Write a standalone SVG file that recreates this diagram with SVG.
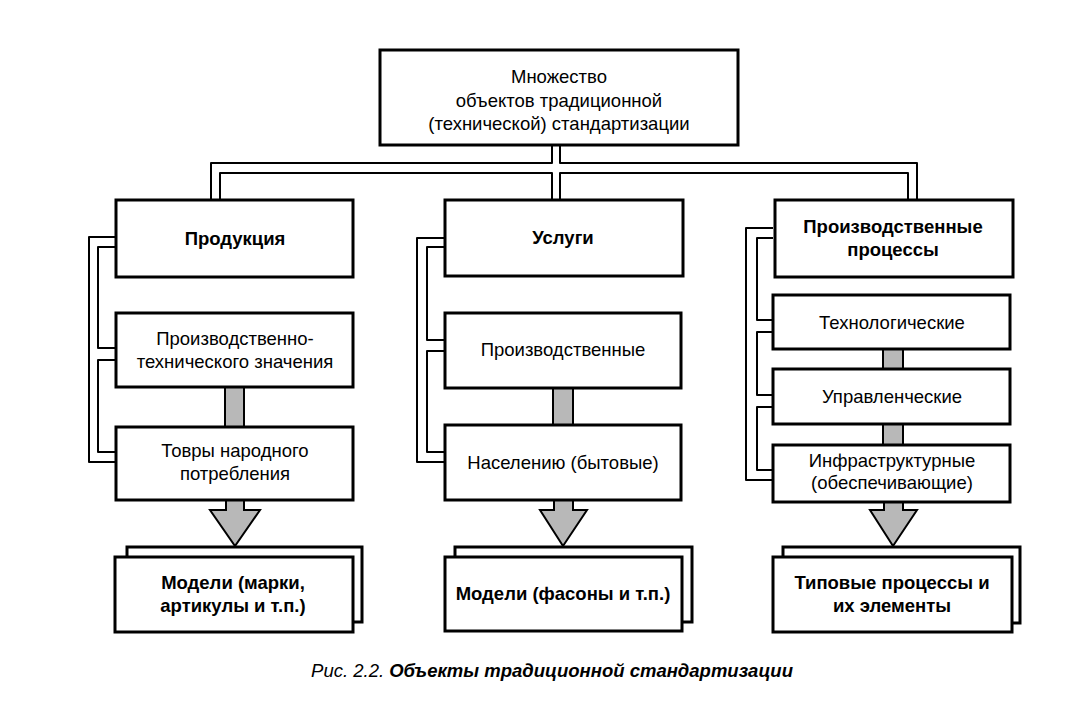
<svg xmlns="http://www.w3.org/2000/svg" width="1088" height="725" viewBox="0 0 1088 725">
<style>
.box{fill:#fff;stroke:#000;stroke-width:3}
.back{fill:#fff;stroke:#000;stroke-width:3;stroke-linejoin:miter}
.pipe{fill:none;stroke:#000;stroke-width:2;stroke-linejoin:round}
.arr{fill:#b8b8b8;stroke:#000;stroke-width:2}
text{font-family:"Liberation Sans",Arial,sans-serif;font-size:18.5px;fill:#000;text-anchor:middle}
.b{font-weight:bold}
.cap{font-style:italic;font-size:18.5px}
</style>
<rect width="1088" height="725" fill="#fff"/>
<g id="connectors">
<path class="pipe" d="M552,145 V163 H211 V200"/>
<path class="pipe" d="M560,145 V163 H917 V200"/>
<path class="pipe" d="M552,200 V173 H220 V200"/>
<path class="pipe" d="M560,200 V173 H908 V200"/>
<path class="pipe" d="M116,237 H89 V462 H116"/>
<path class="pipe" d="M116,247 H98 V348 H116"/>
<path class="pipe" d="M116,360 H98 V452 H116"/>
<path class="pipe" d="M445,238 H417 V462 H445"/>
<path class="pipe" d="M445,247 H427 V340 H445"/>
<path class="pipe" d="M445,351 H427 V452 H445"/>
<path class="pipe" d="M773,228 H746 V480 H773"/>
<path class="pipe" d="M773,238 H757 V320 H773"/>
<path class="pipe" d="M773,332 H757 V395 H773"/>
<path class="pipe" d="M773,407 H757 V470 H773"/>
<rect class="arr" x="225" y="386" width="19" height="42"/>
<rect class="arr" x="553" y="387" width="20" height="40"/>
<rect class="arr" x="883" y="349" width="20" height="21"/>
<rect class="arr" x="883" y="424" width="20" height="22"/>
<path class="arr" d="M226,500 V510 H210 L235,546 L260,510 H244 V500 Z"/>
<path class="arr" d="M554,500 V510 H540 L563,546 L587,510 H573 V500 Z"/>
<path class="arr" d="M884,502 V510 H870 L893,546 L917,510 H903 V502 Z"/>
</g>
<g id="top"><rect class="box" x="380" y="50" width="358" height="95"/>
<text x="559" y="83">Множество</text><text x="559" y="107">объектов традиционной</text><text x="559" y="130">(технической) стандартизации</text></g>
<g id="produkciya"><rect class="box" x="116" y="200" width="237" height="77"/><text class="b" x="235" y="245">Продукция</text></g>
<g id="uslugi"><rect class="box" x="445" y="200" width="238" height="76"/><text class="b" x="563" y="244">Услуги</text></g>
<g id="processy"><rect class="box" x="775" y="200" width="238" height="77"/><text class="b" x="893" y="233">Производственные</text><text class="b" x="893" y="256">процессы</text></g>
<g id="pt"><rect class="box" x="116" y="313" width="237" height="74"/><text x="235" y="345">Производственно-</text><text x="235" y="368">технического значения</text></g>
<g id="tnp"><rect class="box" x="116" y="427" width="237" height="73"/><text x="235" y="457">Товры народного</text><text x="235" y="480">потребления</text></g>
<g id="proizv"><rect class="box" x="445" y="313" width="236" height="75"/><text x="563" y="356">Производственные</text></g>
<g id="nasel"><rect class="box" x="445" y="425" width="236" height="75"/><text x="563" y="469">Населению (бытовые)</text></g>
<g id="tehn"><rect class="box" x="773" y="295" width="237" height="54"/><text x="892" y="329">Технологические</text></g>
<g id="upr"><rect class="box" x="773" y="369" width="237" height="55"/><text x="892" y="403">Управленческие</text></g>
<g id="infra"><rect class="box" x="773" y="445" width="237" height="57"/><text x="892" y="467">Инфраструктурные</text><text x="892" y="489">(обеспечивающие)</text></g>
<g id="modeli1"><path class="back" d="M127,557 V547 H362 V622 H353"/><rect class="box" x="115" y="557" width="238" height="75"/><text class="b" x="233" y="589">Модели (марки,</text><text class="b" x="233" y="612">артикулы и т.п.)</text></g>
<g id="modeli2"><path class="back" d="M455,557 V547 H692 V622 H682"/><rect class="box" x="445" y="557" width="237" height="74"/><text class="b" x="563" y="600">Модели (фасоны и т.п.)</text></g>
<g id="tipovye"><path class="back" d="M783,557 V547 H1020 V623 H1012"/><rect class="box" x="773" y="557" width="239" height="75"/><text class="b" x="892" y="589">Типовые процессы и</text><text class="b" x="892" y="612">их элементы</text></g>
<text class="cap" x="552" y="677">Рис. 2.2. <tspan font-weight="bold">Объекты традиционной стандартизации</tspan></text>
</svg>
